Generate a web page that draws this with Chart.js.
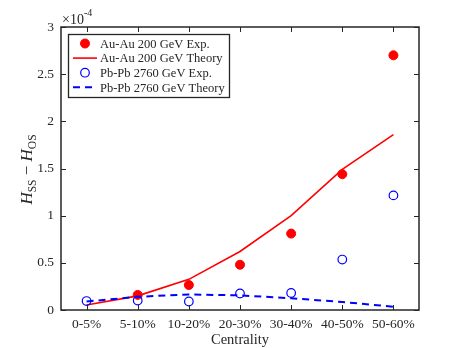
<!DOCTYPE html>
<html>
<head>
<meta charset="utf-8">
<script src="https://cdn.jsdelivr.net/npm/chart.js@4/dist/chart.umd.min.js"></script>
<style>
html,body{margin:0;padding:0;background:#fff;}
#wrap{width:463px;height:348px;}
</style>
</head>
<body>
<div id="wrap"><canvas id="c" width="463" height="348"></canvas></div>
<script>
// Data (values in units of 1e-4)
const categories = ['0-5%','5-10%','10-20%','20-30%','30-40%','40-50%','50-60%'];
const auauExp    = [null, 0.16, 0.265, 0.48, 0.81, 1.44, 2.70];
const auauTheory = [0.053, 0.15, 0.325, 0.62, 1.00, 1.49, 1.86];
const pbpbExp    = [0.095, 0.10, 0.09, 0.175, 0.18, 0.535, 1.215];
const pbpbTheory = [0.09, 0.14, 0.165, 0.155, 0.125, 0.085, 0.035];
const yTickLabels = ['0','0.5','1','1.5','2','2.5','3'];
const seriesNames = ['Au-Au 200 GeV Exp.','Au-Au 200 GeV Theory','Pb-Pb 2760 GeV Exp.','Pb-Pb 2760 GeV Theory'];

const SERIF = '"Liberation Serif","DejaVu Serif",serif';
const AXC = '#262626';

const framePlugin = {
  id: 'frame',
  afterDraw(chart) {
    const ctx = chart.ctx;
    const a = chart.chartArea;
    const xs = chart.scales.x, ys = chart.scales.y;
    ctx.save();
    ctx.strokeStyle = AXC;
    ctx.lineWidth = 1.5;
    ctx.strokeRect(a.left, a.top, a.right - a.left, a.bottom - a.top);
    ctx.lineWidth = 1;
    const tl = 5;
    ctx.beginPath();
    categories.forEach((c, i) => {
      const x = Math.round(xs.getPixelForValue(i)) + 0.5;
      ctx.moveTo(x, a.bottom); ctx.lineTo(x, a.bottom - tl);
      ctx.moveTo(x, a.top); ctx.lineTo(x, a.top + tl);
    });
    yTickLabels.forEach((t) => {
      const y = Math.round(ys.getPixelForValue(parseFloat(t))) + 0.5;
      ctx.moveTo(a.left, y); ctx.lineTo(a.left + tl, y);
      ctx.moveTo(a.right, y); ctx.lineTo(a.right - tl, y);
    });
    ctx.stroke();

    // multiplier
    ctx.fillStyle = AXC;
    ctx.textBaseline = 'alphabetic';
    ctx.textAlign = 'left';
    ctx.font = '14px ' + SERIF;
    ctx.fillText('\u00d710', a.left + 1, a.top - 3);
    const w = ctx.measureText('\u00d710').width;
    ctx.font = '10px ' + SERIF;
    ctx.fillText('-4', a.left + 1 + w, a.top - 11);

    // x title
    ctx.font = '14.5px ' + SERIF;
    ctx.textAlign = 'center';
    ctx.fillText('Centrality', (a.left + a.right) / 2, 344);

    // y title
    ctx.save();
    ctx.translate(32, (a.top + a.bottom) / 2 + 1);
    ctx.rotate(-Math.PI / 2);
    const parts = [
      {t: 'H', f: 'italic 17px ' + SERIF, dy: 0},
      {t: 'SS', f: '11.5px ' + SERIF, dy: 3.5},
      {t: ' \u2212 ', f: '17px ' + SERIF, dy: 0},
      {t: 'H', f: 'italic 17px ' + SERIF, dy: 0},
      {t: 'OS', f: '11.5px ' + SERIF, dy: 3.5}
    ];
    let total = 0;
    parts.forEach(p => { ctx.font = p.f; p.w = ctx.measureText(p.t).width; total += p.w; });
    let x = -total / 2;
    ctx.textAlign = 'left';
    parts.forEach(p => { ctx.font = p.f; ctx.fillText(p.t, x, p.dy); x += p.w; });
    ctx.restore();

    // legend
    const lx = a.left + 7, ly = a.top + 7, lw = 161, lh = 63;
    ctx.fillStyle = '#fff';
    ctx.fillRect(lx, ly, lw, lh);
    ctx.strokeStyle = AXC;
    ctx.lineWidth = 1.3;
    ctx.strokeRect(lx + 0.5, ly + 0.5, lw, lh);
    const ds = chart.data.datasets;
    ctx.font = '12.5px ' + SERIF;
    ctx.textBaseline = 'middle';
    ctx.textAlign = 'left';
    ds.forEach((d, i) => {
      const cy = ly + 9.5 + i * 14.6;
      const x0 = lx + 5, x1 = lx + 29, cx = (x0 + x1) / 2;
      ctx.save();
      if (d.showLine === false) {
        ctx.beginPath();
        ctx.arc(cx, cy, d.pointRadius, 0, Math.PI * 2);
        if (d.pointBackgroundColor !== 'transparent') { ctx.fillStyle = d.pointBackgroundColor; ctx.fill(); }
        ctx.strokeStyle = d.pointBorderColor; ctx.lineWidth = d.pointBorderWidth; ctx.stroke();
      } else {
        ctx.beginPath();
        ctx.strokeStyle = d.borderColor; ctx.lineWidth = d.borderWidth;
        ctx.setLineDash(d.borderDash || []);
        ctx.moveTo(x0, cy); ctx.lineTo(x1, cy); ctx.stroke();
      }
      ctx.restore();
      ctx.fillStyle = AXC;
      ctx.fillText(d.label, lx + 32, cy + 1);
    });
    ctx.restore();
  }
};

new Chart(document.getElementById('c'), {
  type: 'line',
  data: {
    labels: categories,
    datasets: [
      {label: seriesNames[0], data: auauExp, showLine: false, pointRadius: 4.5, pointBackgroundColor: '#ff0000', pointBorderColor: '#ff0000', pointBorderWidth: 1, borderColor: '#ff0000', order: 4},
      {label: seriesNames[1], data: auauTheory, borderColor: '#ff0000', borderWidth: 1.6, pointRadius: 0, tension: 0, fill: false, order: 3},
      {label: seriesNames[2], data: pbpbExp, showLine: false, pointRadius: 4.3, pointBackgroundColor: 'transparent', pointBorderColor: '#0000ff', pointBorderWidth: 1.2, borderColor: '#0000ff', order: 2},
      {label: seriesNames[3], data: pbpbTheory, borderColor: '#0000ff', borderWidth: 2, borderDash: [7, 5], pointRadius: 0, tension: 0, fill: false, order: 1}
    ]
  },
  options: {
    responsive: false,
    animation: false,
    devicePixelRatio: 1,
    layout: {padding: {top: 27, right: 44, left: 0, bottom: 0}},
    plugins: {legend: {display: false}, tooltip: {enabled: false}},
    scales: {
      x: {
        type: 'category',
        offset: true,
        grid: {display: false, drawTicks: false},
        border: {display: false},
        ticks: {color: AXC, font: {family: SERIF, size: 13.5}, padding: 6, maxRotation: 0, autoSkip: false},
        afterFit(s) { s.height = 38; }
      },
      y: {
        min: 0, max: 3,
        grid: {display: false, drawTicks: false},
        border: {display: false},
        afterBuildTicks(s) { s.ticks = yTickLabels.map(t => ({value: parseFloat(t)})); },
        ticks: {color: AXC, font: {family: SERIF, size: 13.5}, padding: 7,
          callback(v) { const i = yTickLabels.findIndex(t => parseFloat(t) === v); return i >= 0 ? yTickLabels[i] : ''; }},
        afterFit(s) { s.width = 61; }
      }
    }
  },
  plugins: [framePlugin]
});
</script>
</body>
</html>
